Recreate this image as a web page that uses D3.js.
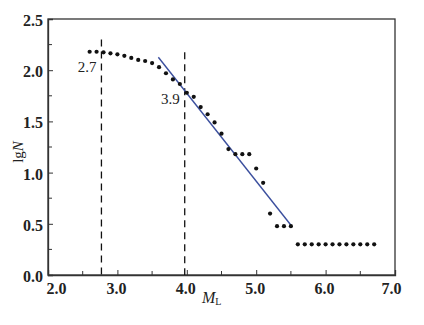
<!DOCTYPE html>
<html><head><meta charset="utf-8">
<script src="https://cdn.jsdelivr.net/npm/d3@7"></script>
<style>body{margin:0;background:#fff}svg{display:block}</style>
</head><body><svg id="c" width="424" height="325"></svg>
<script>
const magnitudes = [2.6,2.7,2.8,2.9,3.0,3.1,3.2,3.3,3.4,3.5,3.6,3.7,3.8,3.9,4.0,4.1,4.2,4.3,4.4,4.5,4.6,4.7,4.8,4.9,5.0,5.1,5.2,5.3,5.4,5.5,5.6,5.7,5.8,5.9,6.0,6.1,6.2,6.3,6.4,6.5,6.6,6.7];
const lgN = [2.18,2.18,2.175,2.165,2.155,2.14,2.12,2.10,2.09,2.07,2.03,1.97,1.91,1.865,1.78,1.74,1.64,1.57,1.49,1.38,1.23,1.18,1.18,1.18,1.04,0.90,0.60,0.477,0.477,0.477,0.30,0.30,0.30,0.30,0.30,0.30,0.30,0.30,0.30,0.30,0.30,0.30];
const fitLine = [[3.59,2.126],[5.51,0.478]];
const dashedLines = [{x:2.77, top:2.30, label:"2.7"},{x:3.97, top:2.175, label:"3.9"}];
const xTicks = [2.0,3.0,4.0,5.0,6.0,7.0];
const xMinor = [2.5,3.5,4.5,5.5,6.5];
const yTicks = [0.0,0.5,1.0,1.5,2.0,2.5];
const yMinor = [0.25,0.75,1.25,1.75,2.25];

const FONT = "'Liberation Serif', 'DejaVu Serif', serif";
const svg = d3.select("#c");
const L=48, R=395, T=19, B=275;
const x = d3.scaleLinear().domain([2,7]).range([L,R]);
const y = d3.scaleLinear().domain([0,2.5]).range([B,T]);

svg.append("rect").attr("x",L).attr("y",T).attr("width",R-L).attr("height",B-T)
  .attr("fill","none").attr("stroke","#333").attr("stroke-width",1.3);

const xa = svg.append("g").attr("transform",`translate(0,${B})`)
  .call(d3.axisBottom(x).tickValues(xTicks).tickSize(-5).tickFormat(d3.format(".1f")).tickPadding(8));
xa.attr("font-family",FONT);
xa.select(".domain").attr("stroke","#333").attr("stroke-width",1.3);
xa.selectAll(".tick line").attr("stroke","#333");
xa.selectAll("text").attr("font-family",FONT).attr("font-size",16).attr("font-weight","bold").attr("fill","#222").attr("dy","0.71em")
  .attr("dx",(d,i)=> i===0 ? 8 : (i===xTicks.length-1 ? -4 : -1.5));
xa.selectAll(".minor").data(xMinor).enter().append("line")
  .attr("x1",d=>x(d)).attr("x2",d=>x(d)).attr("y1",0).attr("y2",-4).attr("stroke","#333");

const ya = svg.append("g").attr("transform",`translate(${L},0)`)
  .call(d3.axisLeft(y).tickValues(yTicks).tickSize(-5).tickFormat(d3.format(".1f")).tickPadding(5));
ya.attr("font-family",FONT);
ya.select(".domain").attr("stroke","#333").attr("stroke-width",1.3);
ya.selectAll(".tick line").attr("stroke","#333");
ya.selectAll("text").attr("font-family",FONT).attr("font-size",16).attr("font-weight","bold").attr("fill","#222").attr("dy","0.4em");
ya.selectAll(".minor").data(yMinor).enter().append("line")
  .attr("y1",d=>y(d)).attr("y2",d=>y(d)).attr("x1",0).attr("x2",4).attr("stroke","#333");

svg.selectAll(".dash").data(dashedLines).enter().append("line")
  .attr("x1",d=>x(d.x)).attr("x2",d=>x(d.x)).attr("y1",d=>y(d.top)).attr("y2",B)
  .attr("stroke","#111").attr("stroke-width",1.3).attr("stroke-dasharray","7,5");
svg.selectAll(".dlab").data(dashedLines).enter().append("text")
  .attr("x",d=>x(d.x)-5).attr("y",(d,i)=> i===0 ? 72 : 104)
  .attr("text-anchor","end").attr("font-family",FONT).attr("font-size",15).attr("fill","#222").text(d=>d.label);

svg.append("line").attr("x1",x(fitLine[0][0])).attr("y1",y(fitLine[0][1]))
  .attr("x2",x(fitLine[1][0])).attr("y2",y(fitLine[1][1]))
  .attr("stroke","#3b4f9e").attr("stroke-width",1.4);

svg.selectAll(".pt").data(magnitudes).enter().append("circle")
  .attr("cx",d=>x(d)).attr("cy",(d,i)=>y(lgN[i])).attr("r",2.1).attr("fill","#111");

const yt = svg.append("text").attr("transform","translate(23,152) rotate(-90)")
  .attr("text-anchor","middle").attr("font-family",FONT).attr("font-size",15).attr("fill","#222");
yt.append("tspan").text("lg");
yt.append("tspan").attr("font-style","italic").text("N");
const xt = svg.append("text").attr("x",202).attr("y",303).attr("font-family",FONT).attr("font-size",16).attr("fill","#222");
xt.append("tspan").attr("font-style","italic").text("M");
xt.append("tspan").attr("font-size",10).attr("dy",2).text("L");
</script></body></html>
